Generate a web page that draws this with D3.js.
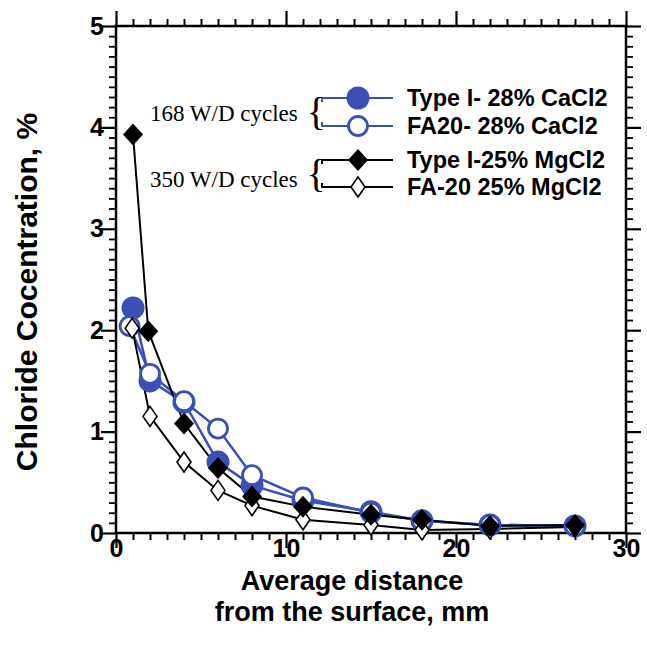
<!DOCTYPE html>
<html><head><meta charset="utf-8">
<script src="https://cdn.jsdelivr.net/npm/d3@7"></script>
<style>body{margin:0;background:#fff}svg{display:block}</style>
</head><body><svg id="c" width="647" height="647"></svg>
<script>
// ---- data ----
const xTicks = [0, 10, 20, 30];
const yTicks = [0, 1, 2, 3, 4, 5];
const seriesNames = ["Type I- 28% CaCl2", "FA20- 28% CaCl2", "Type I-25% MgCl2", "FA-20 25% MgCl2"];
const groupLabels = ["168 W/D cycles", "350 W/D cycles"];
const xTypeICa = [1, 2, 4, 6, 8, 11, 15, 18, 22, 27];
const yTypeICa = [2.22, 1.50, 1.29, 0.70, 0.47, 0.32, 0.21, 0.12, 0.08, 0.07];
const xFA20Ca  = [0.8, 2, 4, 6, 8, 11, 15, 18, 22, 27];
const yFA20Ca  = [2.04, 1.57, 1.30, 1.03, 0.57, 0.35, 0.20, 0.12, 0.08, 0.07];
const xTypeIMg = [1, 1.9, 4, 6, 8, 11, 15, 18, 22, 27];
const yTypeIMg = [3.93, 1.99, 1.08, 0.64, 0.36, 0.26, 0.18, 0.13, 0.07, 0.08];
const xFA20Mg  = [0.95, 2, 4, 6, 8, 11, 15, 18, 22, 27];
const yFA20Mg  = [2.02, 1.15, 0.70, 0.42, 0.27, 0.13, 0.08, 0.03, 0.04, 0.06];

const blue = "#3b50b4";
const svg = d3.select("#c");
const L = 116, R = 626, T = 26, B = 533;
const x = d3.scaleLinear().domain([0, 30]).range([L, R]);
const y = d3.scaleLinear().domain([0, 5]).range([B, T]);
const sans = "'Liberation Sans', Arial, sans-serif";
const serif = "'Liberation Serif', 'Times New Roman', serif";

// ---- axes (ticks outward on all four sides) ----
const minorX = d3.range(0, 31, 1).filter(v => v % 10 !== 0);
const minorY = d3.range(0, 50, 1).map(v => v / 10).filter(v => Math.round(v * 10) % 10 !== 0);
function addAxis(axisFn, scale, transform, vals, size, w, labels) {
  const a = axisFn(scale).tickValues(vals).tickSize(size).tickSizeOuter(0)
    .tickFormat(labels ? d3.format("d") : "");
  const g = svg.append("g").attr("transform", transform).call(a);
  g.select(".domain").remove();
  g.selectAll(".tick line").attr("stroke", "#000").attr("stroke-width", w);
  return g;
}
addAxis(d3.axisBottom, x, `translate(0,${B})`, minorX, 7, 2, false);
const gxb = addAxis(d3.axisBottom, x, `translate(0,${B})`, xTicks, 15, 2.2, true);
addAxis(d3.axisTop, x, `translate(0,${T})`, minorX, 7, 2, false);
addAxis(d3.axisTop, x, `translate(0,${T})`, xTicks, 15, 2.2, false);
addAxis(d3.axisLeft, y, `translate(${L},0)`, minorY, 7, 1.8, false);
const gyl = addAxis(d3.axisLeft, y, `translate(${L},0)`, yTicks, 15, 2.2, true);
addAxis(d3.axisRight, y, `translate(${R},0)`, minorY, 7, 1.8, false);
addAxis(d3.axisRight, y, `translate(${R},0)`, yTicks, 15, 2.2, false);

gxb.selectAll(".tick text").style("font-family", sans).style("font-weight", "bold")
  .style("font-size", "25px").attr("fill", "#000").attr("y", 6).attr("dy", "0.71em");
gyl.selectAll(".tick text").style("font-family", sans).style("font-weight", "bold")
  .style("font-size", "25px").attr("fill", "#000").attr("x", -12);

svg.append("rect").attr("x", L).attr("y", T).attr("width", R - L).attr("height", B - T)
  .attr("fill", "none").attr("stroke", "#000").attr("stroke-width", 2.5);

// ---- axis titles ----
function title(tx, ty, txt, size, rot) {
  svg.append("text").attr("transform", `translate(${tx},${ty})` + (rot ? " rotate(-90)" : ""))
    .attr("text-anchor", "middle").style("font-family", sans).style("font-weight", "bold")
    .style("font-size", size + "px").text(txt);
}
title(352, 590, "Average distance", 27, false);
title(352, 621, "from the surface, mm", 27, false);
title(37, 292, "Chloride Cocentration, %", 30, true);

// ---- series ----
const line = d3.line().x(d => x(d[0])).y(d => y(d[1]));
const zip = (a, b) => a.map((v, i) => [v, b[i]]);
const series = [
  { xs: xTypeICa, ys: yTypeICa, color: blue, marker: "fcircle" },
  { xs: xFA20Ca, ys: yFA20Ca, color: blue, marker: "ocircle" },
  { xs: xFA20Mg, ys: yFA20Mg, color: "#000", marker: "odiamond" },
  { xs: xTypeIMg, ys: yTypeIMg, color: "#000", marker: "fdiamond" }
];
function drawMarker(g, type, cx, cy) {
  if (type === "fcircle") g.append("circle").attr("cx", cx).attr("cy", cy).attr("r", 11.5).attr("fill", blue);
  else if (type === "ocircle") g.append("circle").attr("cx", cx).attr("cy", cy).attr("r", 9.5).attr("fill", "#fff").attr("stroke", blue).attr("stroke-width", 2.8);
  else if (type === "fdiamond") g.append("path").attr("d", `M${cx},${cy-11}L${cx+10},${cy}L${cx},${cy+11}L${cx-10},${cy}Z`).attr("fill", "#000");
  else g.append("path").attr("d", `M${cx},${cy-10}L${cx+7},${cy}L${cx},${cy+10}L${cx-7},${cy}Z`).attr("fill", "#fff").attr("stroke", "#000").attr("stroke-width", 1.6);
}
series.forEach(s => {
  svg.append("path").datum(zip(s.xs, s.ys)).attr("d", line).attr("fill", "none")
    .attr("stroke", s.color).attr("stroke-width", s.color === blue ? 2.5 : 2);
});
series.forEach(s => {
  const g = svg.append("g");
  zip(s.xs, s.ys).forEach(d => drawMarker(g, s.marker, x(d[0]), y(d[1])));
});

// ---- legend ----
const legendY = [98, 126, 160, 187];
const legendMarkers = ["fcircle", "ocircle", "fdiamond", "odiamond"];
const legendColors = [blue, blue, "#000", "#000"];
const lg = svg.append("g");
legendY.forEach((ly, i) => {
  lg.append("line").attr("x1", 321).attr("x2", 393).attr("y1", ly).attr("y2", ly)
    .attr("stroke", legendColors[i]).attr("stroke-width", 2.2);
  drawMarker(lg, legendMarkers[i], 358, ly);
  lg.append("text").attr("x", 407).attr("y", ly).attr("dy", "0.36em")
    .style("font-family", sans).style("font-weight", "bold").style("font-size", "23.5px").text(seriesNames[i]);
});
// braces + group labels
[[98, 126], [160, 187]].forEach((pr, i) => {
  const my = (pr[0] + pr[1]) / 2;
  lg.append("path").attr("d", `M322,${pr[0]}L322,${pr[0] + 4}M322,${pr[1]}L322,${pr[1] - 4}`)
    .attr("stroke", legendColors[i * 2]).attr("stroke-width", 2);
  lg.append("text").attr("x", 316).attr("y", my).attr("dy", "0.33em").attr("text-anchor", "middle")
    .style("font-family", serif).style("font-size", "40px").text("{");
  lg.append("text").attr("x", 150).attr("y", i === 0 ? 113 : 179).attr("dy", "0.33em")
    .style("font-family", serif).style("font-size", "23px").text(groupLabels[i]);
});
</script></body></html>
